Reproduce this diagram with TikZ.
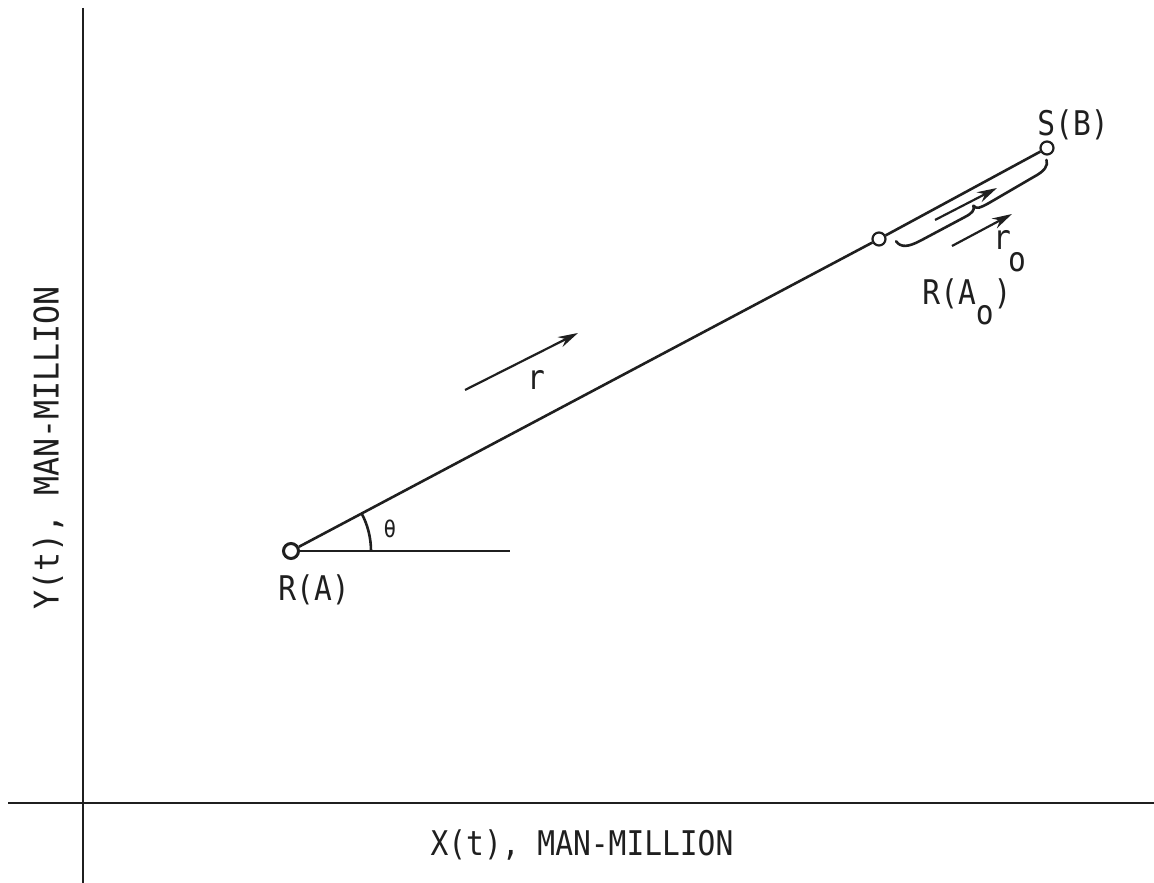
\documentclass[tikz,border=0pt]{standalone}
\usepackage{fontspec}
\newfontfamily\tw[FakeStretch=0.87]{DejaVu Sans Mono}
\newfontfamily\twy[FakeStretch=0.93]{DejaVu Sans Mono}
\usetikzlibrary{arrows.meta}
\begin{document}
\begin{tikzpicture}[x=1pt,y=1pt,
  ln/.style={line width=2.6pt,black!88},
  ax/.style={line width=2.4pt,black!88},
  pt/.style={circle,draw=black!88,line width=2.2pt,inner sep=0pt,minimum size=13pt,fill=white},
  lbl/.style={font=\tw\fontsize{34}{34}\selectfont,inner sep=0pt,text=black!88},
  arr/.style={line width=2.2pt,black!88,-{Stealth[length=20pt,width=11pt]}}]
\useasboundingbox (0,0) rectangle (1154,883);
% axes
\coordinate (ytop) at (83,875);
\coordinate (ybot) at (83,0);
\coordinate (xl) at (8,80);
\coordinate (xr) at (1154,80);
\draw[ax] (ytop) -- (ybot);
\draw[ax] (xl) -- (xr);
\node[lbl] (xlab) at (582,38) {X(t), MAN-MILLION};
\node[lbl,font=\twy\fontsize{34}{34}\selectfont,rotate=90] (ylab) at (48,435) {Y(t), MAN-MILLION};
% points
\node[pt,line width=3pt,minimum size=15pt] (RA) at (291,332) {};
\node[pt] (A0) at (879,644) {};
\node[pt] (SB) at (1047,735) {};
\coordinate (hend) at (510,332);
\draw[ln] (RA) -- (A0) -- (SB);
\draw[ln] (RA.east) -- (hend);
\draw[ln] ([shift={(0:80pt)}]RA.center) arc[start angle=0,end angle=28.06,radius=80pt];
\node[lbl,font=\tw\fontsize{24}{24}\selectfont] (th) at (390,354) {θ};
\node[lbl] (RAlab) at (314,293) {R(A)};
\node[lbl] (SBlab) at (1073,758) {S(B)};
\node[lbl] (A0lab) at (967,581) {R(A\raisebox{-20pt}{o})};
% r arrow
\coordinate (r1) at (465,493);
\coordinate (r2) at (578,550);
\draw[arr] (r1) -- (r2);
\node[lbl] (rlab) at (536,503) {r};
% r0 arrows
\coordinate (u1) at (935,663);
\coordinate (u2) at (997,695);
\coordinate (w1) at (952,637);
\coordinate (w2) at (1012,669);
\draw[arr] (u1) -- (u2);
\draw[arr] (w1) -- (w2);
\node[lbl] (r0lab) at (1002,643) {r};
\node[lbl] (r0sub) at (1017,621) {o};
% brace (hand-drawn style, in the frame of the line)
\begin{scope}[shift={(A0.center)},rotate=28.06]
\draw[line width=2.6pt,black!88,line cap=round,line join=round]
  (14,-10) .. controls (15,-18) and (22,-21) .. (36,-21)
  -- (86,-21) .. controls (94,-21) and (98,-20) .. (99,-15)
  .. controls (100,-20) and (104,-20) .. (113,-20)
  -- (166,-18) .. controls (178,-18) and (184,-15) .. (185,-9);
\end{scope}
\end{tikzpicture}
\end{document}
